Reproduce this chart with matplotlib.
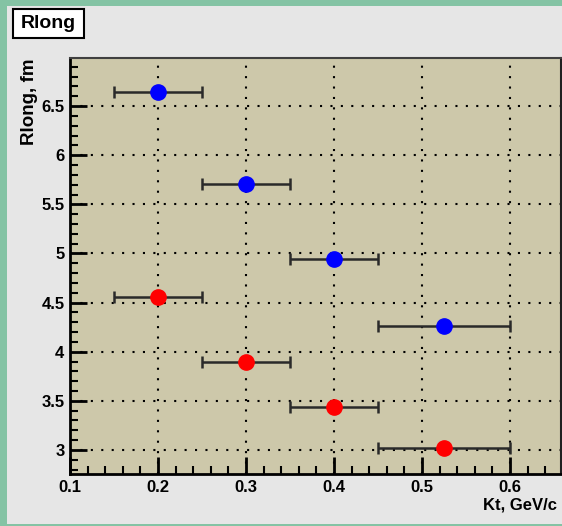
import matplotlib
matplotlib.use("Agg")
import matplotlib.pyplot as plt
from matplotlib.patches import Rectangle
from matplotlib.ticker import MultipleLocator

kt = [0.2, 0.3, 0.4, 0.525]
kt_lo = [0.15, 0.25, 0.35, 0.45]
kt_hi = [0.25, 0.35, 0.45, 0.60]
rlong_blue = [6.64, 5.71, 4.94, 4.26]
rlong_red = [4.56, 3.90, 3.44, 3.02]
xticks = [0.1, 0.2, 0.3, 0.4, 0.5, 0.6]
yticks = [3, 3.5, 4, 4.5, 5, 5.5, 6, 6.5]

W, H = 562, 526
fig = plt.figure(figsize=(W / 100, H / 100), dpi=100)
fig.patch.set_facecolor("#84c3a4")
bg = Rectangle((7 / W, 2 / H), 1 - 7 / W, (H - 8) / H,
               transform=fig.transFigure, facecolor="#e6e6e6",
               edgecolor="none", zorder=-5)
fig.add_artist(bg)

ax = fig.add_axes([70 / W, (H - 474) / H, (561 - 70) / W, (474 - 58) / H])
ax.set_zorder(1)
ax.set_facecolor("#cdc8aa")
ax.set_xlim(0.1, 0.658)
ax.set_ylim(2.755, 6.99)

font = {"family": ["Liberation Sans", "DejaVu Sans"], "weight": "bold"}

ax.xaxis.set_minor_locator(MultipleLocator(0.02))
ax.yaxis.set_minor_locator(MultipleLocator(0.1))
ax.set_xticks(xticks)
ax.set_yticks(yticks)
ax.set_xticklabels(["%g" % v for v in xticks], fontdict=font, fontsize=12)
ax.set_yticklabels(["%g" % v for v in yticks], fontdict=font, fontsize=12)
ax.tick_params(axis="both", which="major", direction="in", length=12, width=2,
               top=False, right=False, pad=4)
ax.tick_params(axis="both", which="minor", direction="in", length=6, width=1.5,
               top=False, right=False)
ax.grid(True, which="major", color="black", linestyle=(0, (1, 4)), linewidth=1.5)
ax.set_axisbelow(True)

for s in ["left", "bottom"]:
    ax.spines[s].set_linewidth(2)
    ax.spines[s].set_color("black")
ax.spines["top"].set_linewidth(1.5)
ax.spines["top"].set_color("#404040")
ax.spines["right"].set_linewidth(1.5)
ax.spines["right"].set_color("#202020")

xerr_lo = [k - l for k, l in zip(kt, kt_lo)]
xerr_hi = [h - k for k, h in zip(kt, kt_hi)]
for ys, col in [(rlong_blue, "#0000ff"), (rlong_red, "#ff0000")]:
    ax.errorbar(kt, ys, xerr=[xerr_lo, xerr_hi], fmt="none", ecolor="#2a2a2a",
                elinewidth=1.8, capsize=4, capthick=1.8, zorder=3)
    ax.plot(kt, ys, "o", color=col, markersize=11, zorder=4, linestyle="none")

fig.text(557 / W, (H - 505) / H, "Kt, GeV/c", ha="right", va="center",
         fontdict=font, fontsize=12)
fig.text(30 / W, (H - 58) / H, "Rlong, fm", ha="center", va="top",
         rotation=90, fontdict=font, fontsize=13.5)

fig.add_artist(Rectangle((13 / W, (H - 38) / H), 71 / W, 29 / H,
                         transform=fig.transFigure, facecolor="white",
                         edgecolor="black", linewidth=1.5, zorder=2))
fig.text(48.5 / W, (H - 23.5) / H, "Rlong", ha="center", va="center",
         fontdict=font, fontsize=14, zorder=3)

fig.savefig("out.png", dpi=100, facecolor=fig.get_facecolor())
